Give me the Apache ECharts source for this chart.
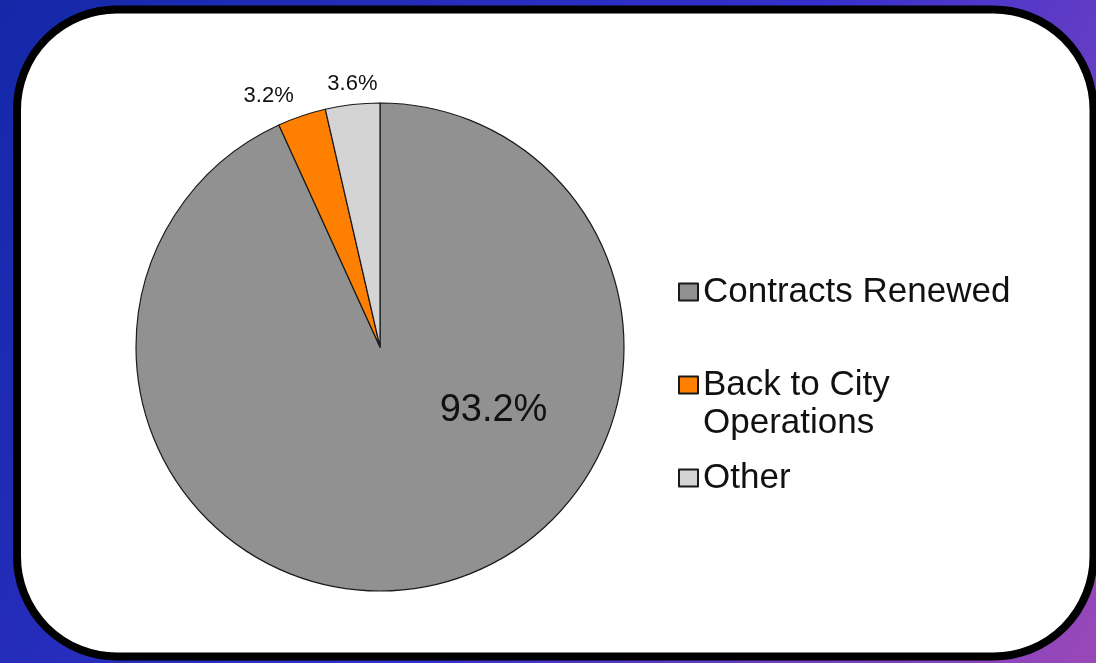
<!DOCTYPE html>
<html>
<head>
<meta charset="utf-8">
<script src="https://cdn.jsdelivr.net/npm/echarts@6/dist/echarts.min.js"></script>
<style>
  html, body { margin: 0; padding: 0; }
  #chart { width: 1096px; height: 663px; }
</style>
</head>
<body>
<div id="chart"></div>
<script>
// data
const categories = ['Contracts Renewed', 'Back to City\nOperations', 'Other']
const shares = [93.2, 3.2, 3.6]
const sliceColors = ['#919191', '#ff8000', '#d4d4d4']

// label nudges (style only)
const labelShift = [
  { dx: 87, dy: -59 },
  { dx: -3, dy: -20 },
  { dx: 30, dy: -21 }
]

const myChart = echarts.init(document.getElementById('chart'))

const font = '"Liberation Sans", Arial, sans-serif'

const option = {
  backgroundColor: new echarts.graphic.LinearGradient(0, 0, 1, 1, [
    { offset: 0, color: '#1428a8' },
    { offset: 0.55, color: '#3530cc' },
    { offset: 0.8, color: '#7040c4' },
    { offset: 1, color: '#9a48b8' }
  ]),
  graphic: [
    {
      type: 'rect',
      z: 0,
      silent: true,
      shape: { x: 17, y: 9.5, width: 1076.5, height: 647, r: 100 },
      style: { fill: '#fff', stroke: '#000', lineWidth: 8 }
    }
  ],
  legend: {
    orient: 'vertical',
    left: 673,
    top: 268,
    padding: 5,
    itemWidth: 19,
    itemHeight: 17,
    itemGap: 17,
    icon: 'rect',
    textStyle: {
      fontFamily: font,
      fontSize: 35,
      lineHeight: 38,
      color: '#111'
    },
    // keep the first line of a wrapped name level with its marker
    formatter: name => (name.indexOf('\n') >= 0 ? '\n' + name : name),
    data: categories
  },
  series: [
    {
      type: 'pie',
      center: [380, 347],
      radius: 244,
      startAngle: 90,
      clockwise: true,
      avoidLabelOverlap: false,
      animation: false,
      itemStyle: {
        borderColor: '#1a1a1a',
        borderWidth: 1.2
      },
      label: {
        position: 'outside',
        fontFamily: font,
        fontSize: 22,
        color: '#111',
        formatter: p => p.value.toFixed(1) + '%'
      },
      labelLine: { show: false, length: 0, length2: 0 },
      labelLayout: p => labelShift[p.dataIndex],
      data: categories.map((name, i) => {
        const item = {
          name: name,
          value: shares[i],
          itemStyle: { color: sliceColors[i] }
        }
        if (i === 0) {
          item.label = { position: 'inside', fontSize: 38 }
        }
        return item
      })
    }
  ]
}

myChart.setOption(option)

window.addEventListener('resize', () => {
  myChart.resize()
})
</script>
</body>
</html>
